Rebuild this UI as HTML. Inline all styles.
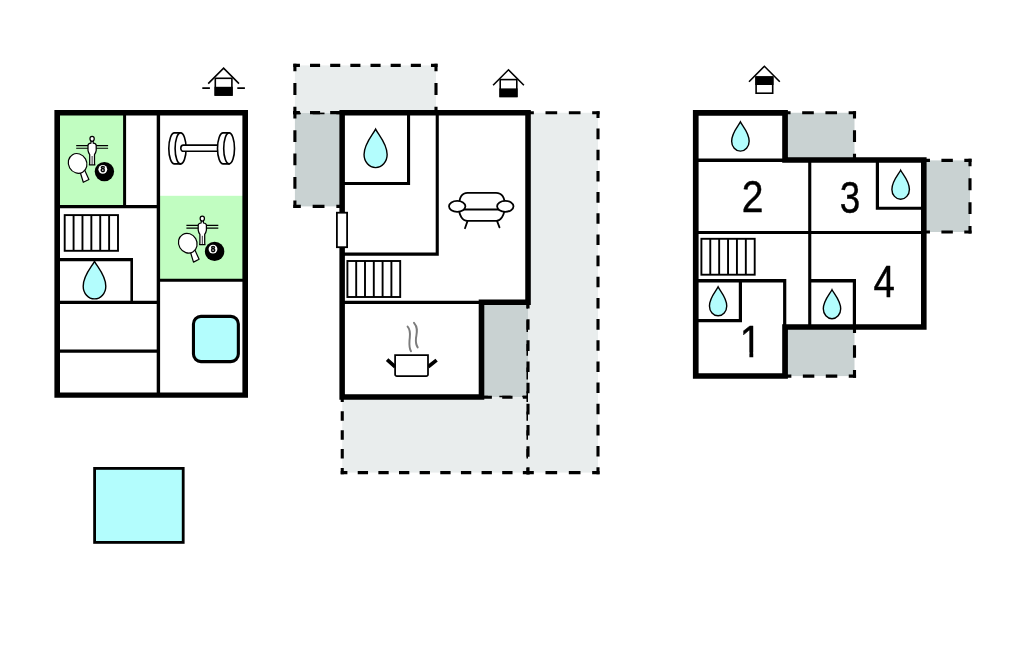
<!DOCTYPE html>
<html lang="en">
<head>
<meta charset="utf-8">
<title>Floor plan</title>
<style>
html,body{margin:0;padding:0;background:#fff;}
body{width:1024px;height:652px;overflow:hidden;font-family:"Liberation Sans",Arial,sans-serif;}
svg{display:block;}
</style>
</head>
<body>
<svg width="1024" height="652" viewBox="0 0 1024 652">
<rect width="1024" height="652" fill="#fff"/>
<rect x="59" y="115" width="65" height="91" fill="#c1fdc1"/>
<rect x="159" y="195.8" width="84" height="84.2" fill="#c1fdc1"/>
<path d="M54.4,110H248V115.5H54.4ZM54.4,392.4H248V397.8H54.4ZM54.4,110H60V397.8H54.4ZM242.4,110H248V397.8H242.4ZM123.1,115H126.1V208.2H123.1ZM156.7,115H160.1V393H156.7ZM59,204.9H158V208.2H59ZM59,257.9H133V261.2H59ZM130.4,257.9H133V303.9H130.4ZM59,300.8H158V303.9H59ZM59,349.6H158V352.7H59ZM159,278.8H244V281.8H159Z" fill="#000"/>
<rect x="64.7" y="215.1" width="53.3" height="35.7" fill="#fff" stroke="#000" stroke-width="1.9"/>
<path d="M73.58,215.1V250.8M82.47,215.1V250.8M91.35,215.1V250.8M100.23,215.1V250.8M109.12,215.1V250.8" stroke="#000" stroke-width="1.9" fill="none"/>
<path d="M94.5,261.39 C97.21,266.84 105.80,275.25 105.80,286.15 C105.80,293.19 100.74,298.90 94.5,298.90 C88.26,298.90 83.20,293.19 83.20,286.15 C83.20,275.25 91.79,266.84 94.5,261.39Z" fill="#b3fdfd" stroke="#000" stroke-width="1.4" stroke-linejoin="miter" stroke-miterlimit="8"/>
<rect x="193.45" y="316.4" width="44.9" height="45.2" rx="7.5" fill="#b3fdfd" stroke="#000" stroke-width="3.1"/>
<rect x="94.6" y="468.4" width="88.6" height="74.0" fill="#b3fdfd" stroke="#000" stroke-width="2.8"/>
<g transform="translate(0,0)">
<path d="M76.2,145.6H108.1M76.2,148.3H108.1" stroke="#000" stroke-width="1.1" fill="none"/>
<path d="M91.1,141.0 L90.9,143.2 Q88.0,143.6 88.0,145.4 L88.0,150.4 Q88.3,152.6 89.7,154.6 L89.7,163.4 L89.4,164.9 L94.8,164.9 L94.5,163.4 L94.5,154.6 Q95.9,152.6 96.2,150.4 L96.2,145.4 Q96.2,143.6 93.3,143.2 L93.1,141.0" fill="#fff" stroke="#000" stroke-width="1.25" stroke-linejoin="round"/>
<ellipse cx="92.1" cy="138.8" rx="2.15" ry="2.45" fill="#fff" stroke="#000" stroke-width="1.25"/>
<path d="M92.1,156V164.6" stroke="#000" stroke-width="0.8" fill="none"/>
<g fill="#fff" stroke="#000" stroke-width="1.2" stroke-linejoin="round"><path d="M80.2,172.2 L83.3,182.3 L88.9,179.5 L84.6,170.0 Z"/><ellipse cx="77.6" cy="163.4" rx="9.1" ry="10.1" transform="rotate(-30 77.6 163.4)"/></g>
<circle cx="104.4" cy="171.6" r="9.7" fill="#000"/>
<circle cx="102.8" cy="169.3" r="4.4" fill="#fff"/>
<text style="filter:grayscale(1)" x="102.8" y="172.3" font-family="'Liberation Sans',Arial,sans-serif" font-weight="bold" font-size="8.4" text-anchor="middle" fill="#000" stroke="#000" stroke-width="0.35">8</text>
</g>
<g transform="translate(110.2,79.8)">
<path d="M76.2,145.6H108.1M76.2,148.3H108.1" stroke="#000" stroke-width="1.1" fill="none"/>
<path d="M91.1,141.0 L90.9,143.2 Q88.0,143.6 88.0,145.4 L88.0,150.4 Q88.3,152.6 89.7,154.6 L89.7,163.4 L89.4,164.9 L94.8,164.9 L94.5,163.4 L94.5,154.6 Q95.9,152.6 96.2,150.4 L96.2,145.4 Q96.2,143.6 93.3,143.2 L93.1,141.0" fill="#fff" stroke="#000" stroke-width="1.25" stroke-linejoin="round"/>
<ellipse cx="92.1" cy="138.8" rx="2.15" ry="2.45" fill="#fff" stroke="#000" stroke-width="1.25"/>
<path d="M92.1,156V164.6" stroke="#000" stroke-width="0.8" fill="none"/>
<g fill="#fff" stroke="#000" stroke-width="1.2" stroke-linejoin="round"><path d="M80.2,172.2 L83.3,182.3 L88.9,179.5 L84.6,170.0 Z"/><ellipse cx="77.6" cy="163.4" rx="9.1" ry="10.1" transform="rotate(-30 77.6 163.4)"/></g>
<circle cx="104.4" cy="171.6" r="9.7" fill="#000"/>
<circle cx="102.8" cy="169.3" r="4.4" fill="#fff"/>
<text style="filter:grayscale(1)" x="102.8" y="172.3" font-family="'Liberation Sans',Arial,sans-serif" font-weight="bold" font-size="8.4" text-anchor="middle" fill="#000" stroke="#000" stroke-width="0.35">8</text>
</g>
<g fill="#fff" stroke="#000" stroke-width="1.6" stroke-linejoin="round"><path d="M180.6,132.9 H174.4 A5.6,15.5 0 0 0 174.4,163.9 H180.6 Z"/><ellipse cx="180.6" cy="148.4" rx="5.5" ry="15.5"/><path d="M218,145.1 H183.4 a2.6,3.1 0 0 0 0,6.2 H218 Z"/><path d="M229.1,132.9 H223.1 A5.6,15.5 0 0 0 223.1,163.9 H229.1 Z"/><ellipse cx="229.1" cy="148.4" rx="5.4" ry="15.5"/></g>
<g stroke="#000" stroke-width="1.6" fill="none">
<rect x="215.3" y="78.3" width="16.6" height="16.7" fill="#fff"/>
<path d="M208.2,83.6L223.6,68.2L239,83.6"/>
<path d="M202.3,88.1h7.6M237.3,88.1h7.6"/>
</g>
<rect x="214.5" y="86.8" width="18.2" height="9" fill="#000"/>
<rect x="294.9" y="112.6" width="47.35" height="93.8" fill="#c9d2d2"/>
<path d="M293.35,112.60L343.80,112.60" fill="none" stroke="#000" stroke-width="3.1" stroke-dasharray="11.84 11.84" stroke-dashoffset="4.37"/>
<path d="M342.25,111.05L342.25,207.95" fill="none" stroke="#000" stroke-width="3.1" stroke-dasharray="11.73 11.73" stroke-dashoffset="4.31"/>
<path d="M343.80,206.40L293.35,206.40" fill="none" stroke="#000" stroke-width="3.1" stroke-dasharray="11.84 11.84" stroke-dashoffset="4.37"/>
<path d="M294.90,207.95L294.90,111.05" fill="none" stroke="#000" stroke-width="3.1" stroke-dasharray="11.73 11.73" stroke-dashoffset="4.31"/>
<rect x="482.1" y="302.5" width="45.9" height="94.75" fill="#c9d2d2"/>
<path d="M480.55,302.50L529.55,302.50" fill="none" stroke="#000" stroke-width="3.1" stroke-dasharray="11.47 11.47" stroke-dashoffset="4.19"/>
<path d="M528.00,300.95L528.00,398.80" fill="none" stroke="#000" stroke-width="3.1" stroke-dasharray="11.84 11.84" stroke-dashoffset="4.37"/>
<path d="M529.55,397.25L480.55,397.25" fill="none" stroke="#000" stroke-width="3.1" stroke-dasharray="11.47 11.47" stroke-dashoffset="4.19"/>
<path d="M482.10,398.80L482.10,300.95" fill="none" stroke="#000" stroke-width="3.1" stroke-dasharray="11.84 11.84" stroke-dashoffset="4.37"/>
<rect x="294.9" y="65.4" width="141.1" height="47.2" fill="#e9eded"/>
<path d="M293.35,65.40L437.55,65.40" fill="none" stroke="#000" stroke-width="3.1" stroke-dasharray="10.08 10.08" stroke-dashoffset="3.49"/>
<path d="M436.00,63.85L436.00,114.15" fill="none" stroke="#000" stroke-width="3.1" stroke-dasharray="11.80 11.80" stroke-dashoffset="4.35"/>
<path d="M437.55,112.60L293.35,112.60" fill="none" stroke="#000" stroke-width="3.1" stroke-dasharray="10.08 10.08" stroke-dashoffset="3.49"/>
<path d="M294.90,114.15L294.90,63.85" fill="none" stroke="#000" stroke-width="3.1" stroke-dasharray="11.80 11.80" stroke-dashoffset="4.35"/>
<rect x="342.25" y="397.25" width="185.75" height="75.35" fill="#e9eded"/>
<path d="M340.70,397.25L529.55,397.25" fill="none" stroke="#000" stroke-width="3.1" stroke-dasharray="10.32 10.32" stroke-dashoffset="3.61"/>
<path d="M528.00,395.70L528.00,474.15" fill="none" stroke="#000" stroke-width="3.1" stroke-dasharray="9.42 9.42" stroke-dashoffset="3.16"/>
<path d="M529.55,472.60L340.70,472.60" fill="none" stroke="#000" stroke-width="3.1" stroke-dasharray="10.32 10.32" stroke-dashoffset="3.61"/>
<path d="M342.25,474.15L342.25,395.70" fill="none" stroke="#000" stroke-width="3.1" stroke-dasharray="9.42 9.42" stroke-dashoffset="3.16"/>
<rect x="528" y="112.75" width="70" height="359.85" fill="#e9eded"/>
<path d="M526.45,112.75L599.55,112.75" fill="none" stroke="#000" stroke-width="3.1" stroke-dasharray="11.67 11.67" stroke-dashoffset="4.28"/>
<path d="M598.00,111.20L598.00,474.15" fill="none" stroke="#000" stroke-width="3.1" stroke-dasharray="10.58 10.58" stroke-dashoffset="3.74"/>
<path d="M599.55,472.60L526.45,472.60" fill="none" stroke="#000" stroke-width="3.1" stroke-dasharray="11.67 11.67" stroke-dashoffset="4.28"/>
<path d="M528.00,474.15L528.00,111.20" fill="none" stroke="#000" stroke-width="3.1" stroke-dasharray="10.58 10.58" stroke-dashoffset="3.74"/>
<path d="M342,112.8 H528.2 V302.4 H481.5 V397 H342 Z" fill="#fff"/>
<path d="M339.4,110H530.8V115.6H339.4ZM339.4,110H344.9V399.8H339.4ZM525.25,110H530.8V305H525.25ZM478.7,299.6H530.8V305H478.7ZM478.7,299.6H484.3V399.8H478.7ZM339.4,394.3H484.3V399.8H339.4ZM407,115H410.1V185.1H407ZM344,182H410.1V185.1H344ZM435.7,115H438.8V255.7H435.7ZM344,252.6H438.8V255.7H344ZM344,300.8H480V303.9H344Z" fill="#000"/>
<rect x="336.9" y="212.7" width="10.2" height="34.5" fill="#fff" stroke="#000" stroke-width="1.8"/>
<rect x="347.4" y="261" width="52.8" height="36" fill="#fff" stroke="#000" stroke-width="1.9"/>
<path d="M356.20,261V297M365.00,261V297M373.80,261V297M382.60,261V297M391.40,261V297" stroke="#000" stroke-width="1.9" fill="none"/>
<path d="M375.6,129.09 C378.37,134.68 387.15,143.32 387.15,154.51 C387.15,161.74 381.98,167.60 375.6,167.60 C369.22,167.60 364.05,161.74 364.05,154.51 C364.05,143.32 372.83,134.68 375.6,129.09Z" fill="#b3fdfd" stroke="#000" stroke-width="1.4" stroke-linejoin="miter" stroke-miterlimit="8"/>
<g fill="#fff" stroke="#000" stroke-width="1.8" stroke-linecap="round" stroke-linejoin="round"><path d="M467.4,221.4 L465,228.2 M497.2,221.4 L499.5,227.4" fill="none"/><path d="M459.1,206 C459.1,196 462.3,192.9 467.5,192.9 H496 C501.2,192.9 504.9,196 504.9,206 C504.9,216 500,220.8 496.5,220.8 H467.5 C463,220.8 458.4,216 459.1,206 Z"/><path d="M463,209.5 H500" fill="none"/><ellipse cx="457.2" cy="206.3" rx="8.2" ry="5.5"/><ellipse cx="505.3" cy="206.3" rx="8.2" ry="5.5"/></g>
<path d="M387.1,359.6 L395.2,366.9 M436.6,360.1 L428.2,366.8" stroke="#000" stroke-width="3.7" fill="none"/>
<path d="M395.1,355 H428.0 V374.4 a1.8,1.8 0 0 1 -1.8,1.8 H396.9 a1.8,1.8 0 0 1 -1.8,-1.8 Z" fill="#fff" stroke="#000" stroke-width="1.75"/>
<path d="M407.6,326.6 C411.5,331 409.8,336 409.5,340.5 C409.2,345 409.6,349 411,351.2 M414,322.8 C418.6,328 416.6,333.5 416,338 C415.6,342 416.4,345.4 417.7,347.4" stroke="#7c7c7c" stroke-width="1.95" fill="none" stroke-linecap="round"/>
<g stroke="#000" stroke-width="1.6" fill="none">
<rect x="500.2" y="79.6" width="16.6" height="16.8" fill="#fff"/>
<path d="M493.1,85.2L508.5,69.8L523.9,85.2"/>
</g>
<rect x="499.4" y="88.4" width="18.2" height="8.8" fill="#000"/>
<rect x="784.75" y="112.75" width="69.75" height="47" fill="#c9d2d2"/>
<path d="M783.20,112.75L856.05,112.75" fill="none" stroke="#000" stroke-width="3.1" stroke-dasharray="11.62 11.62" stroke-dashoffset="4.26"/>
<path d="M854.50,111.20L854.50,161.30" fill="none" stroke="#000" stroke-width="3.1" stroke-dasharray="11.75 11.75" stroke-dashoffset="4.33"/>
<path d="M856.05,159.75L783.20,159.75" fill="none" stroke="#000" stroke-width="3.1" stroke-dasharray="11.62 11.62" stroke-dashoffset="4.26"/>
<path d="M784.75,161.30L784.75,111.20" fill="none" stroke="#000" stroke-width="3.1" stroke-dasharray="11.75 11.75" stroke-dashoffset="4.33"/>
<rect x="924.25" y="160.4" width="45.75" height="71.6" fill="#c9d2d2"/>
<path d="M922.70,160.40L971.55,160.40" fill="none" stroke="#000" stroke-width="3.1" stroke-dasharray="11.44 11.44" stroke-dashoffset="4.17"/>
<path d="M970.00,158.85L970.00,233.55" fill="none" stroke="#000" stroke-width="3.1" stroke-dasharray="11.93 11.93" stroke-dashoffset="4.42"/>
<path d="M971.55,232.00L922.70,232.00" fill="none" stroke="#000" stroke-width="3.1" stroke-dasharray="11.44 11.44" stroke-dashoffset="4.17"/>
<path d="M924.25,233.55L924.25,158.85" fill="none" stroke="#000" stroke-width="3.1" stroke-dasharray="11.93 11.93" stroke-dashoffset="4.42"/>
<rect x="785.6" y="326.9" width="68.9" height="49.2" fill="#c9d2d2"/>
<path d="M784.05,326.90L856.05,326.90" fill="none" stroke="#000" stroke-width="3.1" stroke-dasharray="11.48 11.48" stroke-dashoffset="4.19"/>
<path d="M854.50,325.35L854.50,377.65" fill="none" stroke="#000" stroke-width="3.1" stroke-dasharray="12.30 12.30" stroke-dashoffset="4.60"/>
<path d="M856.05,376.10L784.05,376.10" fill="none" stroke="#000" stroke-width="3.1" stroke-dasharray="11.48 11.48" stroke-dashoffset="4.19"/>
<path d="M785.60,377.65L785.60,325.35" fill="none" stroke="#000" stroke-width="3.1" stroke-dasharray="12.30 12.30" stroke-dashoffset="4.60"/>
<path d="M695.75,112.75 H784.75 V159.75 H924.25 V326.9 H785.6 V376 H695.75 Z" fill="#fff"/>
<path d="M692.9,110.1H787.9V115.7H692.9ZM692.9,110.1H698.6V378.7H692.9ZM782.2,110.1H787.9V162.7H782.2ZM782.2,157.2H926.6V162.7H782.2ZM921,157.2H926.6V329.8H921ZM782.2,324.2H926.6V329.8H782.2ZM782.2,324.2H787.9V378.7H782.2ZM692.9,373.2H787.9V378.7H692.9ZM698,158.6H783V161.9H698ZM808.2,162H811.3V325H808.2ZM875.8,162H879V209.8H875.8ZM875.8,206.7H922V209.8H875.8ZM698,231H922V234.1H698ZM698,279H786.3V282.4H698ZM783.1,279H786.3V325H783.1ZM738.8,282H742V322.3H738.8ZM698,319.1H742V322.3H698ZM810,279.1H856V282.5H810ZM852.8,279.1H856V325H852.8Z" fill="#000"/>
<rect x="701.4" y="238.8" width="53.3" height="35.9" fill="#fff" stroke="#000" stroke-width="1.9"/>
<path d="M710.28,238.8V274.7M719.17,238.8V274.7M728.05,238.8V274.7M736.93,238.8V274.7M745.82,238.8V274.7" stroke="#000" stroke-width="1.9" fill="none"/>
<path d="M740.4,121.89 C742.50,126.13 749.15,132.69 749.15,141.17 C749.15,146.65 745.23,151.10 740.4,151.10 C735.57,151.10 731.65,146.65 731.65,141.17 C731.65,132.69 738.30,126.13 740.4,121.89Z" fill="#b3fdfd" stroke="#000" stroke-width="1.4" stroke-linejoin="miter" stroke-miterlimit="8"/>
<path d="M900.65,170.19 C902.75,174.42 909.40,180.95 909.40,189.40 C909.40,194.87 905.48,199.30 900.65,199.30 C895.82,199.30 891.90,194.87 891.90,189.40 C891.90,180.95 898.55,174.42 900.65,170.19Z" fill="#b3fdfd" stroke="#000" stroke-width="1.4" stroke-linejoin="miter" stroke-miterlimit="8"/>
<path d="M718.1,286.89 C720.18,291.09 726.75,297.58 726.75,305.97 C726.75,311.40 722.88,315.80 718.1,315.80 C713.32,315.80 709.45,311.40 709.45,305.97 C709.45,297.58 716.02,291.09 718.1,286.89Z" fill="#b3fdfd" stroke="#000" stroke-width="1.4" stroke-linejoin="miter" stroke-miterlimit="8"/>
<path d="M832,289.69 C834.09,293.90 840.70,300.41 840.70,308.84 C840.70,314.28 836.81,318.70 832,318.70 C827.19,318.70 823.30,314.28 823.30,308.84 C823.30,300.41 829.91,293.90 832,289.69Z" fill="#b3fdfd" stroke="#000" stroke-width="1.4" stroke-linejoin="miter" stroke-miterlimit="8"/>
<clipPath id="c1"><path d="M735,320 H765 V352.6 H753.25 V360 H749.4 V352.6 H735 Z"/></clipPath>
<g style="filter:grayscale(1)">
<text transform="translate(752.6,212.1) scale(0.865,1)" x="0" y="0" font-family="'Liberation Sans',Arial,Helvetica,sans-serif" font-size="45.2" text-anchor="middle" fill="#000" stroke="#000" stroke-width="0.45" stroke-linejoin="round">2</text>
<text transform="translate(850,212.9) scale(0.815,1)" x="0" y="0" font-family="'Liberation Sans',Arial,Helvetica,sans-serif" font-size="45.2" text-anchor="middle" fill="#000" stroke="#000" stroke-width="0.45" stroke-linejoin="round">3</text>
<text transform="translate(884.1,296.5) scale(0.85,1)" x="0" y="0" font-family="'Liberation Sans',Arial,Helvetica,sans-serif" font-size="45.2" text-anchor="middle" fill="#000" stroke="#000" stroke-width="0.45" stroke-linejoin="round">4</text>
<g clip-path="url(#c1)">
<text transform="translate(750.7,357.2) scale(0.865,1)" x="0" y="0" font-family="'Liberation Sans',Arial,Helvetica,sans-serif" font-size="45.2" text-anchor="middle" fill="#000" stroke="#000" stroke-width="0.45" stroke-linejoin="round">1</text>
</g>
</g>
<g stroke="#000" stroke-width="1.6" fill="none">
<rect x="756.1" y="77.1" width="16.6" height="16.1" fill="#fff"/>
<path d="M749,81.7L764.4,66.3L779.8,81.7"/>
</g>
<rect x="755.3" y="76.3" width="18.2" height="8.7" fill="#000"/>
</svg>
</body>
</html>
